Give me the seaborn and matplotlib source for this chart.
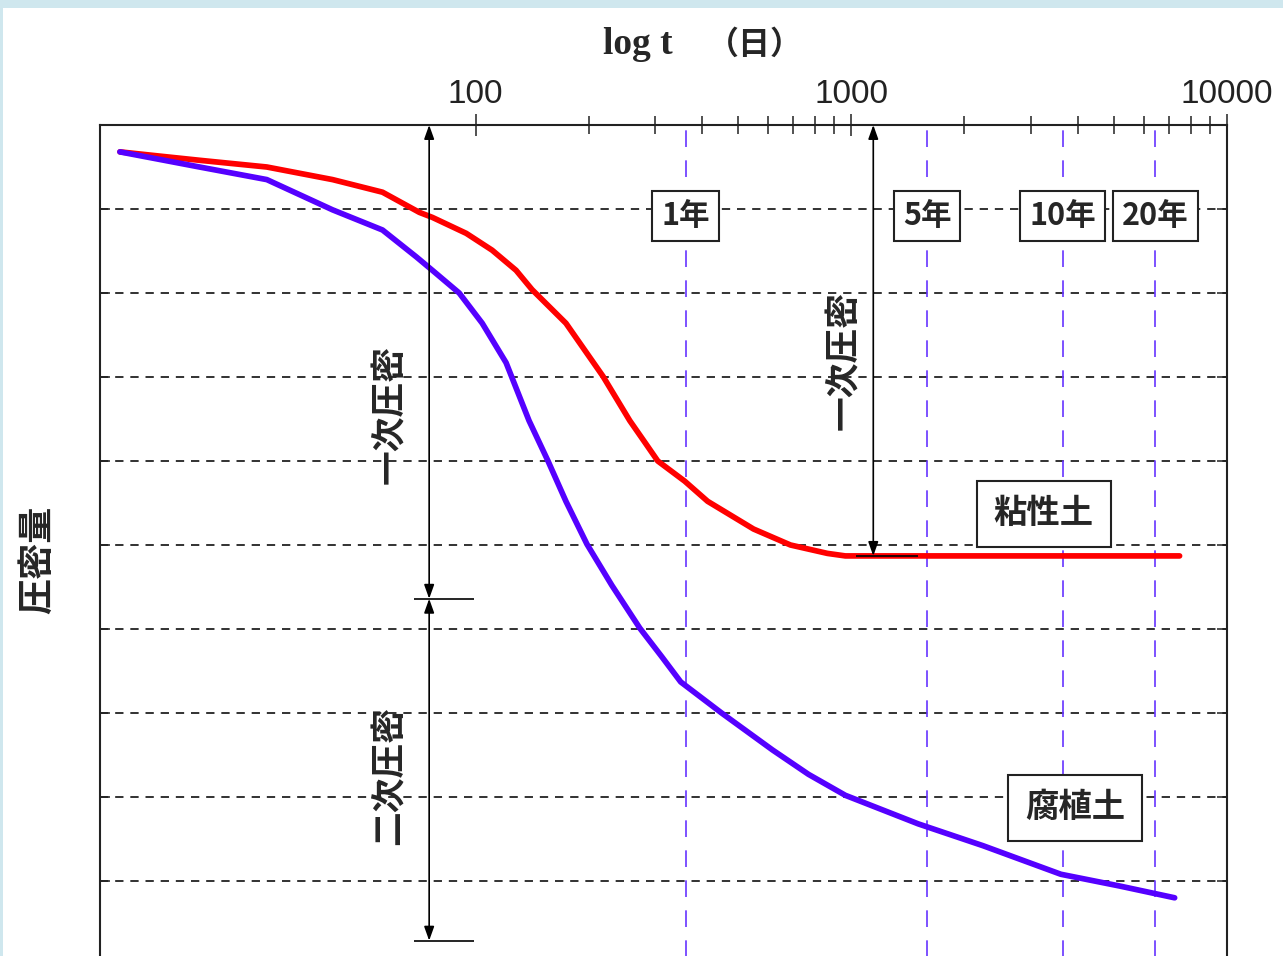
import matplotlib
matplotlib.use("Agg")
import numpy as np
import pandas as pd
import matplotlib.pyplot as plt
import matplotlib.patches as mpatches
import seaborn as sns

# ---------------- DATA ----------------
# elapsed time (days) and settlement (grid units, downward)
clay_t = [11.3, 14.4, 18.4, 27.8, 41.6, 56.5, 70.8, 76.7, 94.4, 110.6, 128.1, 141.3,
          173.9, 218.1, 257.2, 280.3, 305.3, 360.1, 414.5, 549.2, 688.6, 863.6, 964, 7478]
clay_s = [0.32, 0.37, 0.42, 0.50, 0.65, 0.80, 1.04, 1.10, 1.29, 1.49, 1.73, 1.96,
          2.36, 2.99, 3.52, 3.76, 4.00, 4.24, 4.48, 4.81, 5.00, 5.10, 5.13, 5.13]

humus_t = [11.3, 18.4, 27.8, 41.6, 56.5, 69.5, 76.7, 90.4, 104.1, 120.5, 138.7, 155.8,
           173.9, 197.8, 230.4, 273.5, 312.9, 351.4, 451.5, 616.9, 768.9, 964, 1507,
           2242, 3613, 5182, 7255]
humus_s = [0.32, 0.50, 0.65, 1.01, 1.25, 1.57, 1.73, 2.00, 2.36, 2.83, 3.52, 4.00,
           4.48, 4.99, 5.48, 5.99, 6.33, 6.63, 7.00, 7.44, 7.73, 7.98, 8.32,
           8.58, 8.92, 9.06, 9.20]

soil_names = ["粘性土", "腐植土"]
soil_colors = ["#ff0000", "#5500ff"]

year_labels = ["1年", "5年", "10年", "20年"]
year_days = [362, 1590, 3650, 6440]

major_ticks = [100, 1000, 10000]
major_labels = ["100", "1000", "10000"]
minor_ticks = [200, 300, 400, 500, 600, 700, 800, 900,
               2000, 3000, 4000, 5000, 6000, 7000, 8000, 9000]

grid_rows = [1, 2, 3, 4, 5, 6, 7, 8, 9]

df = pd.DataFrame({
    "t": clay_t + humus_t,
    "s": clay_s + humus_s,
    "soil": [soil_names[0]] * len(clay_t) + [soil_names[1]] * len(humus_t),
})

# ---------------- STYLE ----------------
sns.set_style("white")
plt.rcParams["font.family"] = ["Noto Sans CJK JP", "DejaVu Sans"]

fig = plt.figure(figsize=(12.83, 9.56), dpi=100)
fig.patch.set_facecolor("white")

# light blue frame of the page
fig.patches.append(mpatches.Rectangle((0, 1 - 8 / 956), 1, 8 / 956, transform=fig.transFigure,
                                      facecolor="#cfe7ee", edgecolor="none", zorder=0))
fig.patches.append(mpatches.Rectangle((0, 0), 3 / 1283, 1, transform=fig.transFigure,
                                      facecolor="#cfe7ee", edgecolor="none", zorder=0))

ax = fig.add_axes([100 / 1283, 1 - 965 / 956, 1127 / 1283, 840 / 956])

# ---------------- CURVES ----------------
sns.lineplot(data=df, x="t", y="s", hue="soil", units="soil", estimator=None, sort=False,
             palette=dict(zip(soil_names, soil_colors)), linewidth=4.1, legend=False, ax=ax,
             zorder=5, solid_joinstyle="round", solid_capstyle="round")

ax.set_xscale("log")
ax.set_xlim(10, 10000)
ax.set_ylim(10, 0)

# horizontal dashed grid
ax.set_yticks(grid_rows)
ax.set_yticklabels([])
ax.yaxis.grid(True, color="#222222", linewidth=1.3, linestyle=(0, (4.6, 3.8)))
ax.tick_params(axis="y", direction="in", length=7, width=1.1, left=True, right=True,
               color="#222222")

# year lines
for d in year_days:
    ax.axvline(d, color="#6633ff", linewidth=1.2, linestyle=(0, (10, 8)), zorder=2)

# top log axis
ax.xaxis.tick_top()
ax.set_xticks(major_ticks)
ax.set_xticklabels(major_labels)
ax.set_xticks(minor_ticks, minor=True)
ax.xaxis.set_minor_formatter(plt.NullFormatter())
ax.tick_params(axis="x", which="major", direction="inout", length=16, width=1.1,
               pad=3, labelsize=24, color="#222222", bottom=False)
ax.tick_params(axis="x", which="minor", direction="inout", length=13, width=1.1,
               color="#222222", bottom=False)
for lab in ax.get_xticklabels():
    lab.set_family(["Liberation Sans", "DejaVu Sans"])
    lab.set_color("#222222")
ax.set_xlabel("")
ax.set_ylabel("")

for sp in ax.spines.values():
    sp.set_color("#222222")
    sp.set_linewidth(1.5)

# ---------------- ANNOTATIONS ----------------
arrow_kw = dict(arrowstyle="<|-|>,head_length=0.7,head_width=0.25", color="black",
                lw=1.2, shrinkA=0, shrinkB=0, mutation_scale=12)

# primary / secondary consolidation (humus)
ax.annotate("", xy=(75.2, 0), xytext=(75.2, 5.64), arrowprops=arrow_kw, zorder=6)
ax.annotate("", xy=(75.2, 5.64), xytext=(75.2, 9.71), arrowprops=arrow_kw, zorder=6)
ax.hlines([5.64, 9.71], 68.7, 99.1, color="black", linewidth=1.2, zorder=6)
ax.text(58.9, 3.45, "一次圧密", rotation=90, ha="center", va="center", fontsize=25,
        fontweight="bold")
ax.text(58.9, 7.74, "二次圧密", rotation=90, ha="center", va="center", fontsize=25,
        fontweight="bold")

# primary consolidation (clay)
ax.annotate("", xy=(1144, 0), xytext=(1144, 5.13), arrowprops=arrow_kw, zorder=6)
ax.hlines(5.13, 1031, 1507, color="black", linewidth=1.2, zorder=6)
ax.text(952, 2.80, "一次圧密", rotation=90, ha="center", va="center", fontsize=25,
        fontweight="bold")

# year boxes
box_kw = dict(boxstyle="square,pad=0.3", facecolor="white", edgecolor="#222222", linewidth=1.5)
for lab, d in zip(year_labels, year_days):
    ax.text(d, 1.08, lab, ha="center", va="center", fontsize=22, fontweight="bold",
            bbox=box_kw, zorder=7)

# soil labels
soil_box = dict(boxstyle="square,pad=0.5", facecolor="white", edgecolor="#222222", linewidth=1.5)
ax.text(3255, 4.63, soil_names[0], ha="center", va="center", fontsize=24, fontweight="bold",
        bbox=soil_box, zorder=7)
ax.text(3936, 8.13, soil_names[1], ha="center", va="center", fontsize=24, fontweight="bold",
        bbox=soil_box, zorder=7)

# axis titles
fig.text(638 / 1283, 1 - 45 / 956, "log t", ha="center", va="center", fontsize=27,
         fontweight="bold", family=["Liberation Serif", "DejaVu Serif"])
fig.text(755 / 1283, 1 - 45 / 956, "（日）", ha="center", va="center", fontsize=23,
         fontweight="bold")
fig.text(38 / 1283, 1 - 560 / 956, "圧密量", rotation=90, ha="center", va="center",
         fontsize=26, fontweight="bold")

fig.savefig("out.png", dpi=100)
